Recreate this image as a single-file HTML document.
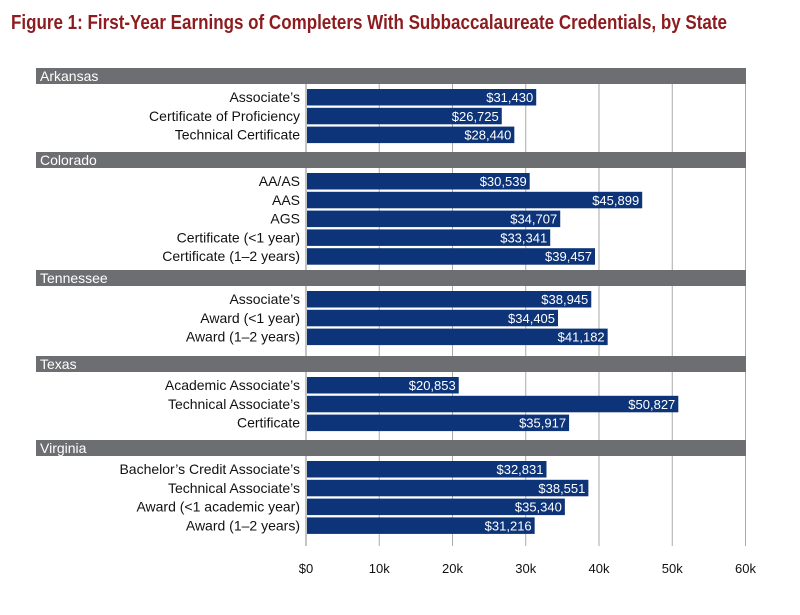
<!DOCTYPE html>
<html><head><meta charset="utf-8"><style>
body{margin:0;background:#fff}
svg{display:block;font-family:"Liberation Sans Narrow","Liberation Sans",sans-serif}
</style></head><body>
<svg id="chart" width="800" height="615" viewBox="0 0 800 615">
<text x="11" y="29" font-size="20" font-weight="bold" fill="#8c1c1f" textLength="716" lengthAdjust="spacingAndGlyphs">Figure 1: First-Year Earnings of Completers With Subbaccalaureate Credentials, by State</text>
<g id="grid"></g><g id="bars"></g><g id="axis"></g>
</svg>
<script>
const groups = ["Arkansas","Colorado","Tennessee","Texas","Virginia"];
const headerYs = [76,160,278,364,448];
const categories = [
 ["Associate’s","Certificate of Proficiency","Technical Certificate"],
 ["AA/AS","AAS","AGS","Certificate (<1 year)","Certificate (1–2 years)"],
 ["Associate’s","Award (<1 year)","Award (1–2 years)"],
 ["Academic Associate’s","Technical Associate’s","Certificate"],
 ["Bachelor’s Credit Associate’s","Technical Associate’s","Award (<1 academic year)","Award (1–2 years)"]
];
const values = [
 [31430,26725,28440],
 [30539,45899,34707,33341,39457],
 [38945,34405,41182],
 [20853,50827,35917],
 [32831,38551,35340,31216]
];
const ticks = [0,10000,20000,30000,40000,50000,60000];
const tickLabels = ["$0","10k","20k","30k","40k","50k","60k"];
const NS="http://www.w3.org/2000/svg";
const x0=306, x1=745.5, xmax=60000;
const x = v => x0 + (x1-x0)*v/xmax;
const rowH = 18.8;
function mk(tag, attrs, parent, txt){const e=document.createElementNS(NS,tag);for(const k in attrs)e.setAttribute(k,attrs[k]);if(txt!==undefined)e.textContent=txt;parent.appendChild(e);return e;}
const grid=document.getElementById('grid'), bars=document.getElementById('bars'), axis=document.getElementById('axis');
ticks.forEach((t,i)=>{
  const l=mk('line',{x1:x(t),x2:x(t),y1:i==0?84:84,y2:546,stroke:i==0?'#888':'#aaa','stroke-width':1},grid);
  
  
  const tx=mk('text',{x:x(t),y:573,'font-size':13,'text-anchor':'middle',fill:'#111'},axis,tickLabels[i]);
  
  
});
groups.forEach((g,gi)=>{
  const hy=headerYs[gi];
  const r=mk('rect',{x:36,y:hy-8,width:710,height:16,fill:'#6d6e71'},bars);
  
  
  const ht=mk('text',{x:40,y:hy+5,'font-size':14,fill:'#fff'},bars,g);
  
  
  const firstY = hy + 21;
  categories[gi].forEach((c,ci)=>{
    const cy=firstY+ci*rowH;
    const v=values[gi][ci];
    const b=mk('rect',{x:x0+1,y:cy-8,width:x(v)-x0-1,height:16.5,fill:'#0d3479'},bars);
    
    
    const vt=mk('text',{x:x(v)-3,y:cy+5,'font-size':13,'text-anchor':'end',fill:'#fff'},bars,'$'+v.toLocaleString('en-US'));
    
    
    const ct=mk('text',{x:300,y:cy+5,'font-size':14,'text-anchor':'end',fill:'#111'},bars,c);
    
    
  });
});
</script>
</body></html>
